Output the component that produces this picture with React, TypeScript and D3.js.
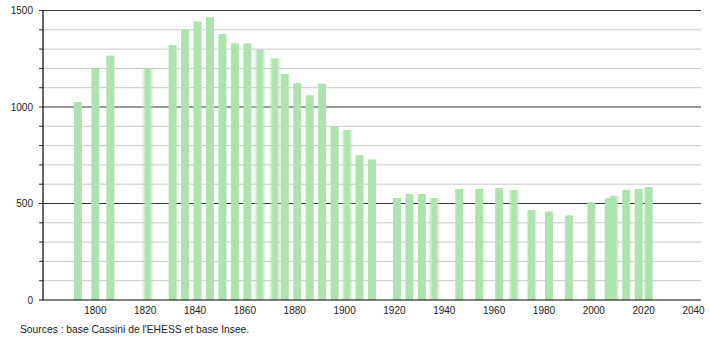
import React from "react";
import * as d3 from "d3";

const years = [1793, 1800, 1806, 1821, 1831, 1836, 1841, 1846, 1851, 1856, 1861, 1866, 1872, 1876, 1881, 1886, 1891, 1896, 1901, 1906, 1911, 1921, 1926, 1931, 1936, 1946, 1954, 1962, 1968, 1975, 1982, 1990, 1999, 2006, 2008, 2013, 2018, 2022];
const population = [1026, 1200, 1266, 1200, 1321, 1402, 1444, 1465, 1378, 1330, 1330, 1299, 1252, 1171, 1124, 1061, 1121, 898, 881, 750, 729, 528, 549, 549, 528, 575, 575, 580, 570, 466, 459, 439, 508, 528, 540, 570, 575, 585];
const softYears = [1821, 1866, 1872, 1901, 1936, 1968, 2008];
const xTicks = [1800, 1820, 1840, 1860, 1880, 1900, 1920, 1940, 1960, 1980, 2000, 2020, 2040];
const yMajor = [0, 500, 1000, 1500];
const yMinor = [100, 200, 300, 400, 600, 700, 800, 900, 1100, 1200, 1300, 1400];
const sourceText = "Sources : base Cassini de l'EHESS et base Insee.";

export default function App() {
  const W = 710, H = 340;
  const x = d3.scaleLinear().domain([1779, 2043]).range([43, 701]);
  const y = d3.scaleLinear().domain([0, 1500]).range([300, 10.5]);
  const barW = 8;
  const font = "'Liberation Sans', Arial, sans-serif";
  return (
    <svg width={W} height={H} style={{ position: "absolute", left: 0, top: 0, background: "#fff" }}>
      <defs>
        <filter id="soft" x="-50%" y="0" width="200%" height="100%">
          <feGaussianBlur stdDeviation="1.4 0" />
        </filter>
      </defs>
      <rect x={0} y={0} width={W} height={H} fill="#fff" />
      {yMinor.map((v) => (
        <g key={"mi" + v}>
          <line x1={40} x2={701} y1={y(v)} y2={y(v)} stroke="#c8c8c8" strokeWidth={1} />
          <line x1={39} x2={43} y1={y(v)} y2={y(v)} stroke="#333" strokeWidth={1} />
        </g>
      ))}
      {yMajor.filter((v) => v > 0).map((v) => (
        <line key={"ma" + v} x1={39} x2={701} y1={y(v)} y2={y(v)} stroke="#333" strokeWidth={1} />
      ))}
      {years.map((yr, i) => (
        <rect
          key={yr}
          x={x(yr) - barW / 2}
          y={y(population[i])}
          width={barW}
          height={y(0) - y(population[i])}
          fill="#ade3ad"
          filter={softYears.includes(yr) ? "url(#soft)" : undefined}
        />
      ))}
      <line x1={43} x2={43} y1={y(1500)} y2={y(0)} stroke="#000" strokeWidth={1.2} />
      <line x1={39} x2={701} y1={y(0)} y2={y(0)} stroke="#000" strokeWidth={1.2} />
      {yMajor.map((v) => (
        <text key={"yl" + v} x={33} y={y(v)} dy="0.35em" textAnchor="end" fontFamily={font} fontSize={10} fill="#222">
          {v}
        </text>
      ))}
      {xTicks.map((t) => (
        <text key={"xl" + t} x={x(t)} y={314} textAnchor="middle" fontFamily={font} fontSize={10} fill="#222">
          {t}
        </text>
      ))}
      <text x={20} y={333} fontFamily={font} fontSize={10.3} fill="#222">
        {sourceText}
      </text>
    </svg>
  );
}
